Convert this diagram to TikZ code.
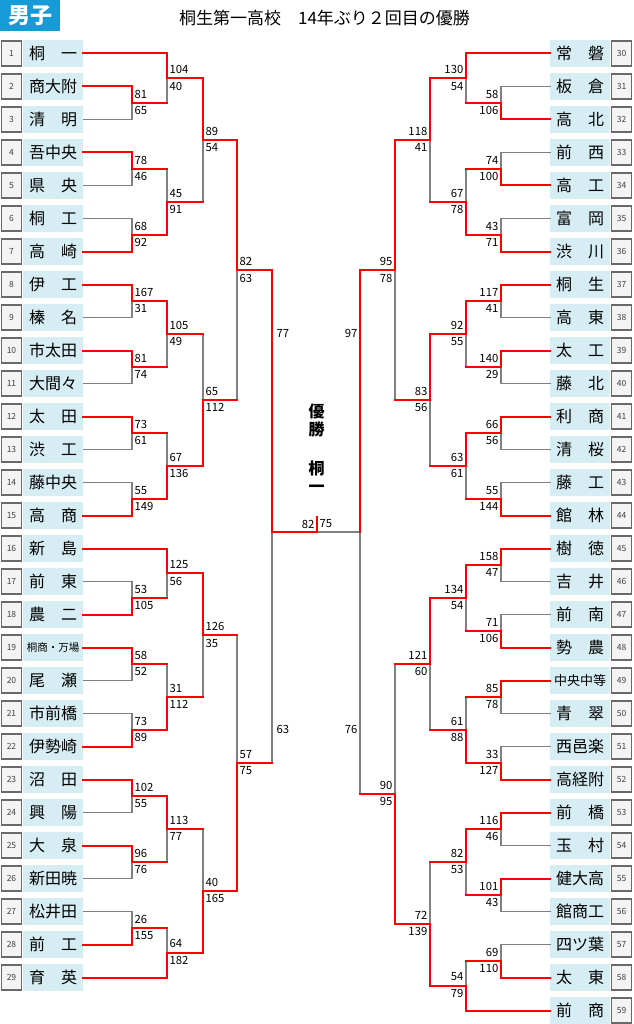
\documentclass[tikz,border=0pt]{standalone}
\usepackage{fontspec}
\setmainfont{Noto Sans CJK JP}
\definecolor{titleblue}{RGB}{22,155,215}
\definecolor{teamblue}{RGB}{214,237,243}
\definecolor{numfill}{RGB}{244,244,244}
\definecolor{boxgray}{RGB}{105,105,105}
\definecolor{linegray}{RGB}{128,128,128}
\definecolor{winred}{RGB}{255,0,0}
\tikzset{
  team/.style={fill=teamblue,minimum width=60pt,minimum height=26.5pt,inner sep=0pt,font=\fontsize{16}{16}\selectfont},
  numbox/.style={draw=boxgray,fill=numfill,line width=1.2pt,minimum width=20pt,minimum height=25pt,inner sep=0pt,text=black!75,font=\fontsize{8.5}{9}\selectfont},
  win/.style={draw=winred,line width=2pt,line cap=rect},
  lose/.style={draw=linegray,line width=1.4pt,line cap=rect},
  score/.style={inner sep=0.5pt,font=\fontsize{11.3}{12}\selectfont}
}
\begin{document}
\begin{tikzpicture}[x=1pt,y=-1pt]
\useasboundingbox (0,0) rectangle (633,1024);

%Heading
\node[fill=titleblue,text=white,minimum width=60pt,minimum height=31pt,inner sep=0pt,anchor=north west,font=\bfseries\fontsize{22}{22}\selectfont] (sex) at (0,0) {男子};
\node[font=\fontsize{17}{17}\selectfont] (title) at (324.5,18) {桐生第一高校　14年ぶり２回目の優勝};

%Nodes for the teams - left and right
\foreach \i/\t in {1/桐　一,2/商大附,3/清　明,4/吾中央,5/県　央,6/桐　工,7/高　崎,8/伊　工,9/榛　名,10/市太田,11/大間々,12/太　田,13/渋　工,14/藤中央,15/高　商,16/新　島,17/前　東,18/農　二,19/{\fontsize{10.5}{11}\selectfont 桐商・万場},20/尾　瀬,21/市前橋,22/伊勢崎,23/沼　田,24/興　陽,25/大　泉,26/新田暁,27/松井田,28/前　工,29/育　英}{
  \node[numbox] (n\i) at (11.5,{53.5+33*(\i-1)}) {\i};
  \node[team] (t\i) at (53,{53.5+33*(\i-1)}) {\t};
}
\foreach \i/\t in {30/常　磐,31/板　倉,32/高　北,33/前　西,34/高　工,35/富　岡,36/渋　川,37/桐　生,38/高　東,39/太　工,40/藤　北,41/利　商,42/清　桜,43/藤　工,44/館　林,45/樹　徳,46/吉　井,47/前　南,48/勢　農,49/{\fontsize{13}{13}\selectfont 中央中等},50/青　翠,51/西邑楽,52/高経附,53/前　橋,54/玉　村,55/健大高,56/館商工,57/四ツ葉,58/太　東,59/前　商}{
  \node[team] (t\i) at (580,{53.5+33*(\i-30)}) {\t};
  \node[numbox] (n\i) at (621.5,{53.5+33*(\i-30)}) {\i};
}

%Match points
\foreach \n/\x/\y in {a23/132/103,a45/132/169,a67/132/235,a89/132/301,a1011/132/367,a1213/132/433,a1415/132/499,a1718/132/598,a1920/132/664,a2122/132/730,a2324/132/796,a2526/132/862,a2728/132/928,
  b1/167/78.25,b2/167/202,b3/167/334,b4/167/466,b5/167/573.25,b6/167/697,b7/167/829,b8/167/952.75,
  c1/203/140.1,c2/203/400,c3/203/635.1,c4/203/890.9,d1/237/270.1,d2/237/763,eL/272/532,fin/316.7/516.5,
  p3132/501/103,p3334/501/169,p3536/501/235,p3738/501/301,p3940/501/367,p4142/501/433,p4344/501/499,p4546/501/565,p4748/501/631,p4950/501/697,p5152/501/763,p5354/501/829,p5556/501/895,p5758/501/961,
  q1/466/78.25,q2/466/202,q3/466/334,q4/466/466,q5/466/598,q6/466/730,q7/466/862,q8/466/985.75,
  r1/430/140.1,r2/430/400,r3/430/664,r4/430/923.9,s1/395/270.1,s2/395/793.9,eR/360/532}
  \coordinate (\n) at (\x,\y);

%Lines of the teams that lost their first game
\foreach \p/\q in {t3.east/a23,t5.east/a45,t6.east/a67,t9.east/a89,t11.east/a1011,t13.east/a1213,t14.east/a1415,t17.east/a1718,t20.east/a1920,t21.east/a2122,t24.east/a2324,t26.east/a2526,t27.east/a2728,
  t31.west/p3132,t33.west/p3334,t35.west/p3536,t38.west/p3738,t40.west/p3940,t42.west/p4142,t43.west/p4344,t46.west/p4546,t47.west/p4748,t50.west/p4950,t51.west/p5152,t54.west/p5354,t56.west/p5556,t57.west/p5758}
  \draw[lose] (\p) -| (\q);
%Winners that lose the next game
\foreach \p/\q in {a23/b1,a45/b2,a1011/b3,a1213/b4,a1718/b5,a1920/b6,a2526/b7,a2728/b8,b2/c1,b3/c2,b6/c3,b7/c4,c2/d1,c3/d2,d2/eL,
  p3132/q1,p3334/q2,p3940/q3,p4344/q4,p4748/q5,p4950/q6,p5556/q7,p5758/q8,q2/r1,q4/r2,q6/r3,q7/r4,r2/s1,r3/s2,s2/eR}{
  \draw[lose] (\p -| \q) -- (\q);
  \draw[win] (\p) -- (\p -| \q);
}
\draw[lose] (eR) -- (eR -| fin);
%Winners
\foreach \p/\q in {t2.east/a23,t4.east/a45,t7.east/a67,t8.east/a89,t10.east/a1011,t12.east/a1213,t15.east/a1415,t18.east/a1718,t19.east/a1920,t22.east/a2122,t23.east/a2324,t25.east/a2526,t28.east/a2728,
  t1.east/b1,a67/b2,a89/b3,a1415/b4,t16.east/b5,a2122/b6,a2324/b7,t29.east/b8,b1/c1,b4/c2,b5/c3,b8/c4,c1/d1,c4/d2,d1/eL,eL/fin,
  t32.west/p3132,t34.west/p3334,t36.west/p3536,t37.west/p3738,t39.west/p3940,t41.west/p4142,t44.west/p4344,t45.west/p4546,t48.west/p4748,t49.west/p4950,t52.west/p5152,t53.west/p5354,t55.west/p5556,t58.west/p5758,
  t30.west/q1,p3536/q2,p3738/q3,p4142/q4,p4546/q5,p5152/q6,p5354/q7,t59.west/q8,q1/r1,q3/r2,q5/r3,q8/r4,r1/s1,r4/s2,s1/eR}
  \draw[win] (\p) -| (\q);

%Scores
\foreach \n/\hi/\lo in {a23/81/65,a45/78/46,a67/68/92,a89/167/31,a1011/81/74,a1213/73/61,a1415/55/149,a1718/53/105,a1920/58/52,a2122/73/89,a2324/102/55,a2526/96/76,a2728/26/155,
  b1/104/40,b2/45/91,b3/105/49,b4/67/136,b5/125/56,b6/31/112,b7/113/77,b8/64/182,c1/89/54,c2/65/112,c3/126/35,c4/40/165,d1/82/63,d2/57/75}{
  \node[score,anchor=south west] (\n-hi) at ([xshift=2pt,yshift=4pt]\n) {\hi};
  \node[score,anchor=north west] (\n-lo) at ([xshift=2pt,yshift=-3pt]\n) {\lo};
}
\foreach \n/\hi/\lo in {p3132/58/106,p3334/74/100,p3536/43/71,p3738/117/41,p3940/140/29,p4142/66/56,p4344/55/144,p4546/158/47,p4748/71/106,p4950/85/78,p5152/33/127,p5354/116/46,p5556/101/43,p5758/69/110,
  q1/130/54,q2/67/78,q3/92/55,q4/63/61,q5/134/54,q6/61/88,q7/82/53,q8/54/79,r1/118/41,r2/83/56,r3/121/60,r4/72/139,s1/95/78,s2/90/95}{
  \node[score,anchor=south east] (\n-hi) at ([xshift=-2pt,yshift=4pt]\n) {\hi};
  \node[score,anchor=north east] (\n-lo) at ([xshift=-2pt,yshift=-3pt]\n) {\lo};
}
\node[score,anchor=west] (semiL-hi) at (276,333) {77};
\node[score,anchor=west] (semiL-lo) at (276,729) {63};
\node[score,anchor=east] (semiR-hi) at (358,333) {97};
\node[score,anchor=east] (semiR-lo) at (358,729) {76};
\node[score,anchor=east] (fin-l) at (315,524) {82};
\node[score,anchor=west] (fin-r) at (319,524) {75};

%Champion
\node[align=center,font=\bfseries\fontsize{16}{18}\selectfont] (champ) at (316.7,448.5) {優\\勝\\[21pt]桐\\一};

\end{tikzpicture}
\end{document}
